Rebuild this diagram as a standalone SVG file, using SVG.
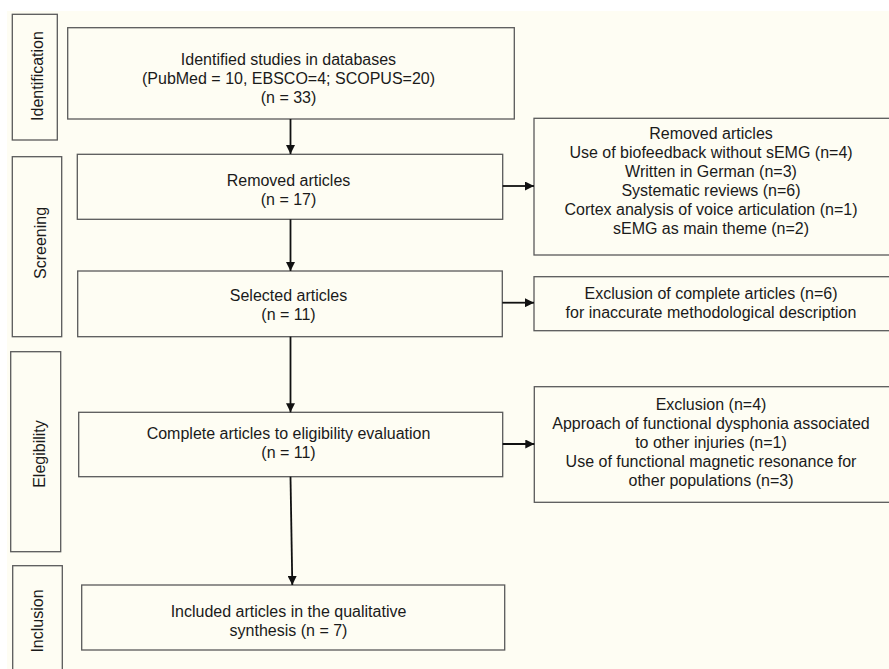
<svg xmlns="http://www.w3.org/2000/svg" width="889" height="669" viewBox="0 0 889 669">
<style>
.bg{fill:#fefdf3}
.box{fill:#fefdf3;stroke:#5a5a5a;stroke-width:1.3}
.t{font-family:"Liberation Sans",Arial,sans-serif;font-size:16px;fill:#1a1a1a;text-anchor:middle}
.c{stroke:#111;stroke-width:1.8;fill:none;marker-end:url(#ah)}
</style>
<defs>
<marker id="ah" markerUnits="userSpaceOnUse" viewBox="0 0 10 10" refX="10" refY="5" markerWidth="10" markerHeight="9" orient="auto">
<path d="M0,0 L10,5 L0,10 Z" fill="#111"/>
</marker>
</defs>
<rect x="0" y="0" width="889" height="669" fill="#ffffff"/>
<rect class="bg" x="7" y="11" width="882" height="658"/>

<g id="lbl-identification">
<rect class="box" x="12.3" y="14.3" width="45" height="125.7"/>
<text class="t" transform="translate(42.5,76) rotate(-90)">Identification</text>
</g>
<g id="lbl-screening">
<rect class="box" x="12.3" y="156.7" width="49.4" height="180"/>
<text class="t" transform="translate(45.5,243) rotate(-90)">Screening</text>
</g>
<g id="lbl-elegibility">
<rect class="box" x="10.7" y="351.7" width="50" height="200"/>
<text class="t" transform="translate(44.5,454) rotate(-90)">Elegibility</text>
</g>
<g id="lbl-inclusion">
<rect class="box" x="12.7" y="565.7" width="49.6" height="110"/>
<text class="t" transform="translate(42.7,621) rotate(-90)">Inclusion</text>
</g>

<g id="identified">
<rect class="box" x="67.7" y="27.7" width="446.6" height="91.3"/>
<text class="t" x="288.5" y="65">Identified studies in databases</text>
<text class="t" x="288.5" y="84">(PubMed = 10, EBSCO=4; SCOPUS=20)</text>
<text class="t" x="288.5" y="103">(n = 33)</text>
</g>
<g id="removed">
<rect class="box" x="77.3" y="154.3" width="425.4" height="65"/>
<text class="t" x="288.5" y="186">Removed articles</text>
<text class="t" x="288.5" y="205">(n = 17)</text>
</g>
<g id="selected">
<rect class="box" x="77.7" y="271" width="424.6" height="65.7"/>
<text class="t" x="288.5" y="301">Selected articles</text>
<text class="t" x="288.5" y="320">(n = 11)</text>
</g>
<g id="eligibility">
<rect class="box" x="78.7" y="412.3" width="424" height="64.4"/>
<text class="t" x="288.5" y="439">Complete articles to eligibility evaluation</text>
<text class="t" x="288.5" y="458">(n = 11)</text>
</g>
<g id="included">
<rect class="box" x="81.7" y="585" width="423" height="65"/>
<text class="t" x="288.5" y="616.5">Included articles in the qualitative</text>
<text class="t" x="288.5" y="635.5">synthesis (n = 7)</text>
</g>

<g id="removed-detail">
<rect class="box" x="534" y="118.3" width="360" height="136.7"/>
<text class="t" x="711" y="139.3">Removed articles</text>
<text class="t" x="711" y="158.3">Use of biofeedback without sEMG (n=4)</text>
<text class="t" x="711" y="177.3">Written in German (n=3)</text>
<text class="t" x="711" y="196.3">Systematic reviews (n=6)</text>
<text class="t" x="711" y="215.3">Cortex analysis of voice articulation (n=1)</text>
<text class="t" x="711" y="234.3">sEMG as main theme (n=2)</text>
</g>
<g id="exclusion-complete">
<rect class="box" x="534" y="276.7" width="360" height="54"/>
<text class="t" x="711" y="299.3">Exclusion of complete articles (n=6)</text>
<text class="t" x="711" y="318.3">for inaccurate methodological description</text>
</g>
<g id="exclusion-eligibility">
<rect class="box" x="534.3" y="386.7" width="360" height="115.6"/>
<text class="t" x="711" y="410">Exclusion (n=4)</text>
<text class="t" x="711" y="429">Approach of functional dysphonia associated</text>
<text class="t" x="711" y="448">to other injuries (n=1)</text>
<text class="t" x="711" y="467">Use of functional magnetic resonance for</text>
<text class="t" x="711" y="486">other populations (n=3)</text>
</g>

<g id="connectors">
<line class="c" x1="290.5" y1="119" x2="290.5" y2="154"/>
<line class="c" x1="290.5" y1="219.3" x2="290.5" y2="271"/>
<line class="c" x1="290.5" y1="336.7" x2="290.5" y2="412.3"/>
<line class="c" x1="290.5" y1="476.7" x2="292.3" y2="585"/>
<line class="c" x1="502.7" y1="186" x2="534" y2="186"/>
<line class="c" x1="502.3" y1="302.7" x2="534" y2="302.7"/>
<line class="c" x1="502.7" y1="444" x2="534.3" y2="444"/>
</g>
</svg>
